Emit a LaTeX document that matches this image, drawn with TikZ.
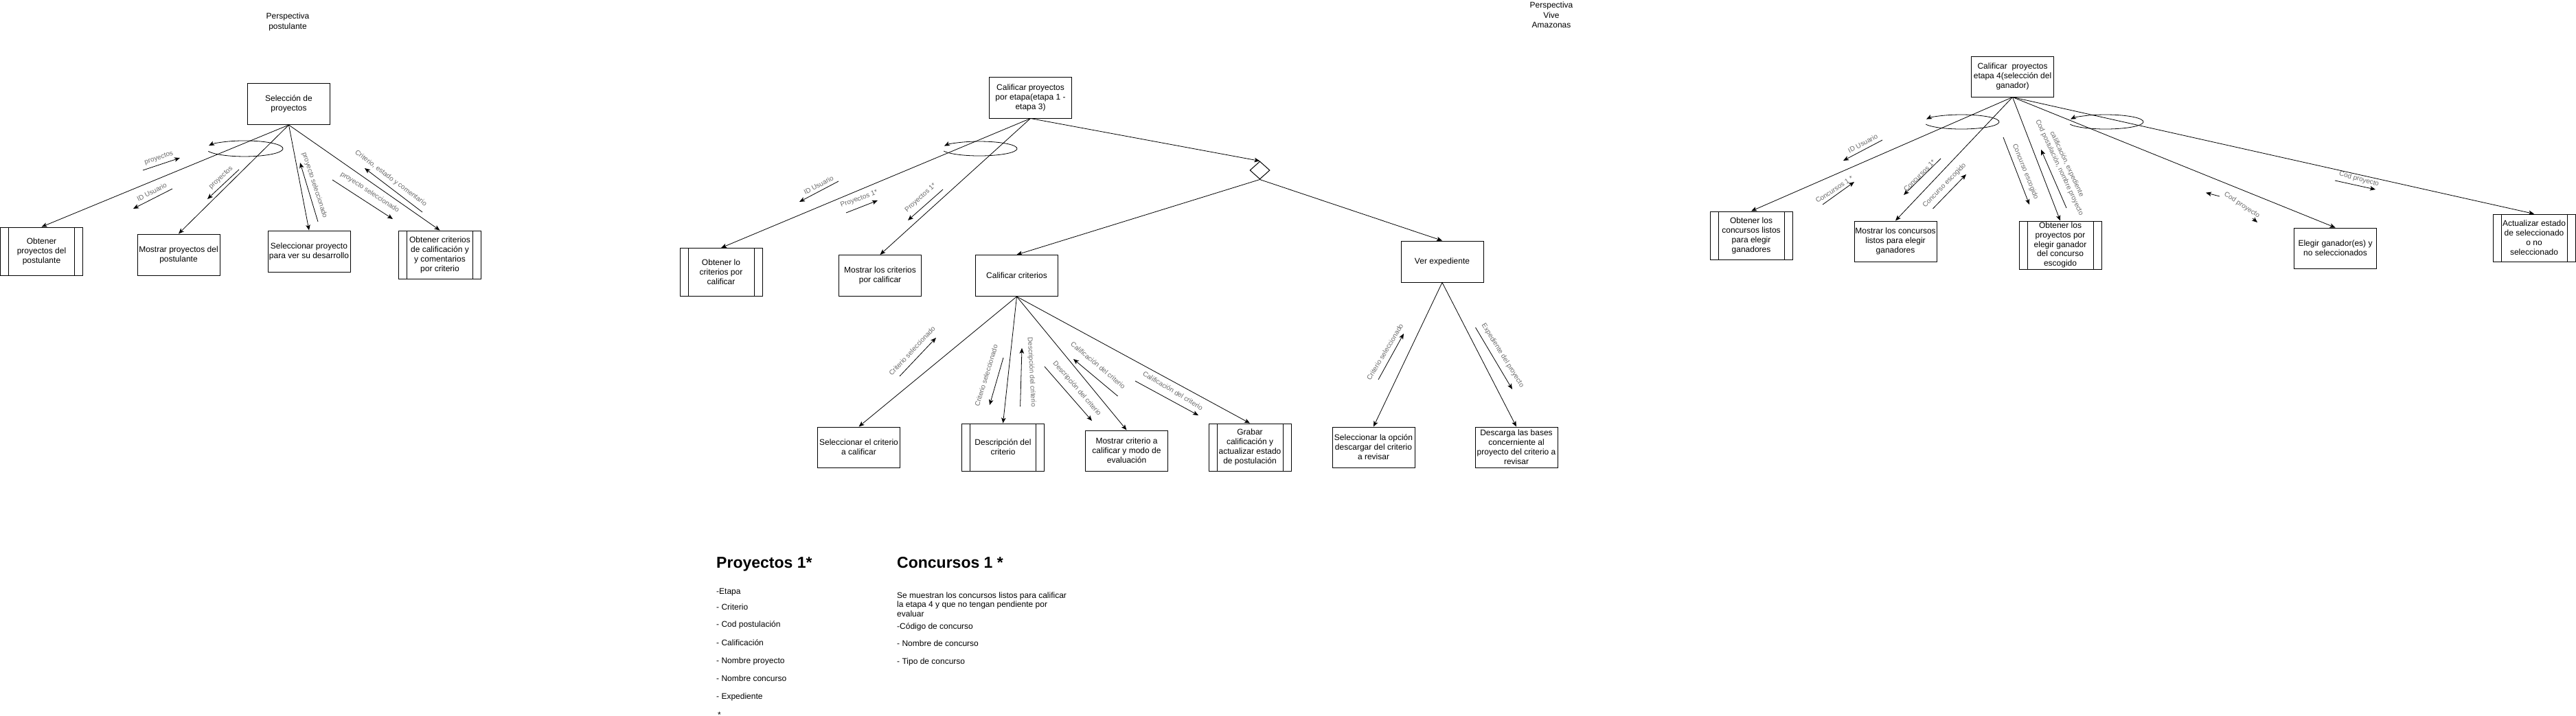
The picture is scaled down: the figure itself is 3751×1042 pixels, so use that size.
\documentclass[tikz,border=0pt]{standalone}
\usepackage{fontspec}
\setmainfont{Liberation Sans}
\usetikzlibrary{arrows.meta,shapes.geometric}
\definecolor{lblgray}{RGB}{105,105,105}
\begin{document}
\begin{tikzpicture}[x=1pt,y=-1pt,
  box/.style={draw, line width=1pt, minimum width=120pt, minimum height=60pt, inner sep=1pt, align=center, font=\fontsize{12}{14}\selectfont},
  tall/.style={minimum height=70pt},
  proc/.style={box, path picture={\draw[line width=1pt] ([xshift=12pt]path picture bounding box.north west) -- ([xshift=12pt]path picture bounding box.south west) ([xshift=-12pt]path picture bounding box.north east) -- ([xshift=-12pt]path picture bounding box.south east);}},
  conn/.style={draw, line width=0.8pt, -{Stealth[length=8pt,width=6.5pt,inset=2pt]}},
  lbl/.style={text=lblgray, font=\fontsize{10}{12}\selectfont, inner sep=0pt, align=center},
  ttl/.style={font=\fontsize{12}{14.5}\selectfont, align=center, inner sep=0pt},
  heading/.style={font=\fontsize{23}{27}\selectfont\bfseries, anchor=base west, inner sep=0pt},
  body/.style={font=\fontsize{12}{14}\selectfont, anchor=base west, inner sep=0pt}
]
\useasboundingbox (0,0) rectangle (3751,1042);

% ================= LEFT: Perspectiva postulante =================
\node[ttl] (t1) at (419,32) {Perspectiva\\postulante};
\node[box] (sel) at (420.5,151.5) {Selección de\\proyectos};
\node[proc, tall] (obtpost) at (60.5,366) {Obtener\\proyectos del\\postulante};
\node[box] (mospost) at (260,371) {Mostrar proyectos del\\postulante};
\node[box] (selproy) at (450,366) {Seleccionar proyecto\\para ver su desarrollo};
\node[proc, tall] (obtcrit) at (640.5,371) {Obtener criterios\\de calificación y\\y comentarios\\por criterio};

\draw[conn] (sel.south) -- (obtpost.north);
\draw[conn] (sel.south) -- (mospost.north);
\draw[conn] (sel.south) -- (selproy.north);
\draw[conn] (sel.south) -- (obtcrit.north);
\draw[conn] (303.4,220.4) arc[start angle=160, end angle=-158, x radius=56, y radius=11.5];

\coordinate (a1s) at (208,248); \coordinate (a1e) at (262,230);
\draw[conn] (a1s) -- (a1e);
\node[lbl, rotate=19] (l1) at (231.5,230.5) {proyectos};
\coordinate (a2s) at (251,275); \coordinate (a2e) at (194,304);
\draw[conn] (a2s) -- (a2e);
\node[lbl, rotate=27] (l2) at (221,279.5) {ID Usuario};
\coordinate (a3s) at (348,247); \coordinate (a3e) at (302,290);
\draw[conn] (a3s) -- (a3e);
\node[lbl, rotate=43] (l3) at (322,259) {proyectos};
\coordinate (a4s) at (463,323); \coordinate (a4e) at (437,237);
\draw[conn] (a4s) -- (a4e);
\node[lbl, rotate=-72] (l4) at (458,270) {proyecto seleccionado};
\coordinate (a5s) at (615,309); \coordinate (a5e) at (531,245);
\draw[conn] (a5s) -- (a5e);
\node[lbl, rotate=-37] (l5) at (569,260) {Criterio, estado y comentario};
\coordinate (a6s) at (484,262); \coordinate (a6e) at (572,319);
\draw[conn] (a6s) -- (a6e);
\node[lbl, rotate=-33] (l6) at (538.5,280) {proyecto seleccionado};

% ================= MIDDLE =================
\node[box] (calif) at (1500.5,142) {Calificar proyectos\\por etapa(etapa 1 -\\etapa 3)};
\node[proc, tall] (obtlo) at (1050,396.5) {Obtener lo\\criterios por\\calificar};
\node[box] (moslos) at (1281.5,401.5) {Mostrar los criterios\\por calificar};
\node[draw, diamond, line width=1pt, minimum width=29pt, minimum height=26pt, inner sep=0pt] (dia) at (1834.5,248) {};
\node[box] (calcrit) at (1480.5,401.5) {Calificar criterios};
\node[box] (verexp) at (2100,381) {Ver expediente};
\node[box, minimum height=59pt] (selcrit) at (1250.5,651.5) {Seleccionar el criterio\\a calificar};
\node[proc, minimum height=69pt] (desc) at (1460.5,651.5) {Descripción del\\criterio};
\node[box, minimum height=59pt] (moscrit) at (1640.5,656.5) {Mostrar criterio a\\calificar y modo de\\evaluación};
\node[proc, minimum height=69pt] (grabar) at (1820,651.5) {Grabar\\calificación y\\actualizar estado\\de postulación};
\node[box, minimum height=59pt] (selop) at (2000,651.5) {Seleccionar la opción\\descargar del criterio\\a revisar};
\node[box, minimum height=59pt] (descarga) at (2208,651.5) {Descarga las bases\\concerniente al\\proyecto del criterio a\\revisar};

\draw[conn] (calif.south) -- (obtlo.north);
\draw[conn] (calif.south) -- (moslos.north);
\draw[conn] (calif.south) -- (dia.north);
\draw[conn] (dia.south) -- (calcrit.north);
\draw[conn] (dia.south) -- (verexp.north);
\draw[conn] (calcrit.south) -- (selcrit.north);
\draw[conn] (calcrit.south) -- (desc.north);
\draw[conn] (calcrit.south) -- (moscrit.north);
\draw[conn] (calcrit.south) -- (grabar.north);
\draw[conn] (verexp.south) -- (selop.north);
\draw[conn] (verexp.south) -- (descarga.north);
\draw[conn] (1374.3,220.1) arc[start angle=160, end angle=-158, x radius=55, y radius=10.5];

\coordinate (b1s) at (1221,264); \coordinate (b1e) at (1164,294);
\draw[conn] (b1s) -- (b1e);
\node[lbl, rotate=28] (m1) at (1192,269.5) {ID Usuario};
\coordinate (b2s) at (1232,310); \coordinate (b2e) at (1278,292);
\draw[conn] (b2s) -- (b2e);
\node[lbl, rotate=20] (m2) at (1251,290) {Proyectos 1*};
\coordinate (b3s) at (1373,276); \coordinate (b3e) at (1322,321);
\draw[conn] (b3s) -- (b3e);
\node[lbl, rotate=42] (m3) at (1340.5,288.5) {Proyectos 1*};
\coordinate (b4s) at (1310,548); \coordinate (b4e) at (1363,492);
\draw[conn] (b4s) -- (b4e);
\node[lbl, rotate=47] (m4) at (1328,511) {Criterio seleccionado};
\coordinate (b5s) at (1461,521); \coordinate (b5e) at (1441,590);
\draw[conn] (b5s) -- (b5e);
\node[lbl, rotate=73] (m5) at (1436,547) {Criterio seleccionado};
\coordinate (b6s) at (1485.6,592); \coordinate (b6e) at (1488,507);
\draw[conn] (b6s) -- (b6e);
\node[lbl, rotate=-87] (m6) at (1502,542) {Descripción del criterio};
\coordinate (b7s) at (1521,534); \coordinate (b7e) at (1590,613);
\draw[conn] (b7s) -- (b7e);
\node[lbl, rotate=-49] (m7) at (1568,566) {Descripción del criterio};
\coordinate (b8s) at (1627.6,577); \coordinate (b8e) at (1563,523);
\draw[conn] (b8s) -- (b8e);
\node[lbl, rotate=-40] (m8) at (1599,532) {Calificación del criterio};
\coordinate (b9s) at (1653,555); \coordinate (b9e) at (1745,605);
\draw[conn] (b9s) -- (b9e);
\node[lbl, rotate=-31] (m9) at (1708,569) {Calificación del criterio};
\coordinate (b10s) at (2007,553); \coordinate (b10e) at (2044,486);
\draw[conn] (b10s) -- (b10e);
\node[lbl, rotate=59] (m10) at (2016.7,512.5) {Criterio seleccionado};
\coordinate (b11s) at (2148.5,477); \coordinate (b11e) at (2202,567);
\draw[conn] (b11s) -- (b11e);
\node[lbl, rotate=-58] (m11) at (2188,518) {Expediente del proyecto};

% ================= RIGHT: Perspectiva Vive Amazonas =================
\node[ttl] (t2) at (2259,22) {Perspectiva\\Vive\\Amazonas};
\node[box, minimum height=59pt] (calif4) at (2930.5,111.5) {Calificar\ \ proyectos\\etapa 4(selección del\\ganador)};
\node[proc, tall] (obtconc) at (2550,343) {Obtener los\\concursos listos\\para elegir\\ganadores};
\node[box, minimum height=59pt] (mosconc) at (2760,351.5) {Mostrar los concursos\\listos para elegir\\ganadores};
\node[proc, tall, font=\fontsize{12}{13.6}\selectfont, inner sep=0pt] (obtproy) at (3000,357) {Obtener los\\proyectos por\\elegir ganador\\del concurso\\escogido};
\node[box, minimum height=59pt] (elegir) at (3400.5,361.5) {Elegir ganador(es) y\\no seleccionados};
\node[proc, minimum height=69pt] (actual) at (3690,346.5) {Actualizar estado\\de seleccionado\\o no\\seleccionado};

\draw[conn] (calif4.south) -- (obtconc.north);
\draw[conn] (calif4.south) -- (mosconc.north);
\draw[conn] (calif4.south) -- (obtproy.north);
\draw[conn] (calif4.south) -- (elegir.north);
\draw[conn] (calif4.south) -- (actual.north);
\draw[conn] (2804.3,181.1) arc[start angle=160, end angle=-158, x radius=55, y radius=10.5];
\draw[conn] (3014.3,181.1) arc[start angle=160, end angle=-158, x radius=55, y radius=10.5];

\coordinate (c1s) at (2741,204); \coordinate (c1e) at (2684,234);
\draw[conn] (c1s) -- (c1e);
\node[lbl, rotate=28] (r1) at (2712.5,209) {ID Usuario};
\coordinate (c2s) at (2654,298); \coordinate (c2e) at (2700,265);
\draw[conn] (c2s) -- (c2e);
\node[lbl, rotate=33] (r2) at (2671,276) {Concursos 1 *};
\coordinate (c3s) at (2826,231); \coordinate (c3e) at (2772,284);
\draw[conn] (c3s) -- (c3e);
\node[lbl, rotate=45] (r3) at (2795,256) {Concursos 1*};
\coordinate (c4s) at (2814.5,304); \coordinate (c4e) at (2863,254);
\draw[conn] (c4s) -- (c4e);
\node[lbl, rotate=46] (r4) at (2831.5,270) {Concurso escogido};
\coordinate (c5s) at (2917,200); \coordinate (c5e) at (2955,298);
\draw[conn] (c5s) -- (c5e);
\node[lbl, rotate=-68] (r5) at (2949,250) {Concurso escogido};
\coordinate (c6s) at (3009,303); \coordinate (c6e) at (2972,218);
\draw[conn] (c6s) -- (c6e);
\node[lbl, rotate=-65] (r6) at (3004,241.7) {calificación, expediente\\Cod postulación, nombre proyecto};
\coordinate (c7s) at (3232,286); \coordinate (c7e) at (3212,280.7);
\draw[conn] (c7s) -- (c7e);
\coordinate (c8s) at (3280,318); \coordinate (c8e) at (3287,324);
\draw[conn] (c8s) -- (c8e);
\node[lbl, rotate=-33] (r7) at (3264.5,299) {Cod proyecto};
\coordinate (c9s) at (3400,263); \coordinate (c9e) at (3459,276);
\draw[conn] (c9s) -- (c9e);
\node[lbl, rotate=-15] (r8) at (3435,261) {Cod proyecto};

% ================= BOTTOM TEXT =================
\node[heading] (h1) at (1043,827) {Proyectos 1*};
\node[body] (p1) at (1043,865.7) {-Etapa};
\node[body] (p2) at (1043,888.3) {- Criterio};
\node[body] (p3) at (1043,913.3) {- Cod postulación};
\node[body] (p4) at (1043,940) {- Calificación};
\node[body] (p5) at (1043,966.7) {- Nombre proyecto};
\node[body] (p6) at (1043,992.3) {- Nombre concurso};
\node[body] (p7) at (1043,1018) {- Expediente};
\node[body] (p8) at (1045,1045) {*};

\node[heading] (h2) at (1306,827) {Concursos 1 *};
\node[body] (q1) at (1306,871.3) {Se muestran los concursos listos para calificar};
\node[body] (q2) at (1306,884.5) {la etapa 4 y que no tengan pendiente por};
\node[body] (q3) at (1306,898) {evaluar};
\node[body] (q4) at (1306,916) {-Código de concurso};
\node[body] (q5) at (1306,941.7) {- Nombre de concurso};
\node[body] (q6) at (1306,967.3) {- Tipo de concurso};
\end{tikzpicture}
\end{document}
